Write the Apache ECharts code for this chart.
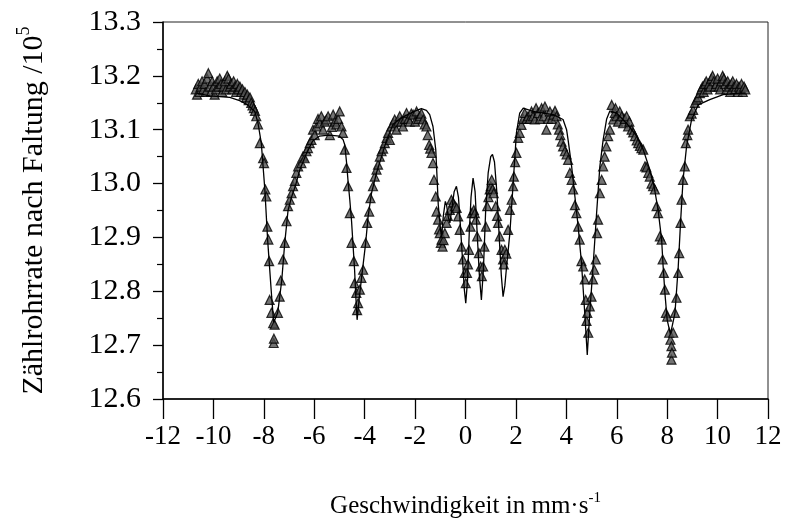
<!DOCTYPE html>
<html>
<head>
<meta charset="utf-8">
<script src="https://cdn.jsdelivr.net/npm/echarts@6/dist/echarts.min.js"></script>
<style>
  html, body { margin: 0; padding: 0; background: #fff; }
  #chart { width: 788px; height: 530px; }
</style>
</head>
<body>
<div id="chart"></div>
<script>
// Measured spectrum: source velocity (mm/s) and folded count rate (10^5)
const velocity = [
  -10.70,-10.65,-10.60,-10.55,-10.50,-10.45,-10.40,-10.35,-10.30,-10.25,
  -10.20,-10.15,-10.10,-10.05,-10.00,-9.95,-9.90,-9.85,-9.80,-9.75,
  -9.70,-9.65,-9.60,-9.55,-9.50,-9.45,-9.40,-9.35,-9.30,-9.25,
  -9.20,-9.15,-9.10,-9.05,-9.00,-8.95,-8.90,-8.85,-8.80,-8.75,
  -8.70,-8.65,-8.60,-8.55,-8.50,-8.45,-8.40,-8.35,-8.30,-8.23,
  -8.16,-8.03,-7.99,-7.94,-7.90,-7.86,-7.82,-7.79,-7.77,-7.70,
  -7.63,-7.61,-7.60,-7.57,-7.44,-7.37,-7.33,-7.24,-7.17,-7.10,
  -7.04,-6.97,-6.90,-6.84,-6.77,-6.71,-6.64,-6.51,-6.45,-6.38,
  -6.31,-6.25,-6.18,-6.11,-6.05,-5.98,-5.91,-5.85,-5.78,-5.72,
  -5.65,-5.58,-5.52,-5.45,-5.38,-5.30,-5.25,-5.18,-5.12,-5.05,
  -4.99,-4.92,-4.86,-4.79,-4.72,-4.66,-4.59,-4.52,-4.43,-4.40,
  -4.33,-4.30,-4.26,-4.19,-4.13,-4.06,-3.96,-3.90,-3.82,-3.77,
  -3.67,-3.60,-3.53,-3.47,-3.40,-3.33,-3.27,-3.20,-3.13,-3.07,
  -3.00,-2.94,-2.87,-2.81,-2.74,-2.67,-2.61,-2.55,-2.48,-2.40,
  -2.34,-2.27,-2.21,-2.15,-2.08,-2.00,-1.94,-1.87,-1.81,-1.75,
  -1.68,-1.62,-1.55,-1.50,-1.44,-1.40,-1.35,-1.29,-1.25,-1.18,
  -1.15,-1.09,-1.05,-1.02,-0.98,-0.95,-0.91,-0.87,-0.82,-0.75,
  -0.70,-0.62,-0.56,-0.49,-0.42,-0.35,-0.29,-0.23,-0.16,-0.10,
  -0.03,0.01,0.06,0.10,0.14,0.20,0.25,0.33,0.37,0.41,
  0.46,0.53,0.60,0.65,0.70,0.75,0.81,0.86,0.91,0.96,
  1.00,1.04,1.08,1.12,1.20,1.25,1.29,1.36,1.43,1.49,
  1.52,1.56,1.62,1.69,1.76,1.83,1.89,1.92,1.97,2.02,
  2.09,2.15,2.22,2.29,2.35,2.42,2.48,2.55,2.62,2.68,
  2.75,2.80,2.88,2.95,3.02,3.10,3.15,3.21,3.28,3.35,
  3.42,3.48,3.55,3.61,3.66,3.71,3.76,3.81,3.87,3.94,
  4.01,4.07,4.14,4.21,4.27,4.34,4.40,4.47,4.53,4.60,
  4.67,4.73,4.77,4.80,4.83,4.87,4.93,5.00,5.06,5.11,
  5.17,5.22,5.26,5.33,5.40,5.46,5.52,5.59,5.66,5.73,
  5.80,5.86,5.92,5.95,5.99,6.05,6.12,6.20,6.25,6.32,
  6.39,6.45,6.50,6.59,6.65,6.72,6.79,6.85,6.92,6.98,
  7.05,7.12,7.18,7.25,7.31,7.38,7.44,7.51,7.58,7.64,
  7.71,7.78,7.82,7.87,7.91,7.95,8.00,8.08,8.13,8.17,
  8.17,8.19,8.24,8.31,8.37,8.44,8.48,8.53,8.57,8.63,
  8.70,8.74,8.80,8.83,8.90,8.97,9.03,9.10,9.17,9.23,
  9.30,9.35,9.40,9.45,9.50,9.55,9.60,9.65,9.70,9.75,
  9.80,9.85,9.90,9.95,10.00,10.05,10.10,10.15,10.20,10.25,
  10.30,10.35,10.40,10.45,10.50,10.55,10.60,10.65,10.70,10.75,
  10.80,10.85,10.90,10.95,11.00,11.05,11.10
];
const counts = [
  13.175,13.165,13.185,13.17,13.18,13.19,13.175,13.185,13.17,13.195,
  13.205,13.18,13.17,13.19,13.18,13.165,13.175,13.19,13.18,13.195,
  13.185,13.17,13.18,13.19,13.175,13.2,13.195,13.18,13.185,13.175,
  13.19,13.18,13.17,13.185,13.175,13.18,13.17,13.175,13.165,13.17,
  13.16,13.165,13.155,13.16,13.15,13.145,13.14,13.135,13.125,13.11,
  13.075,13.047,13.038,12.989,12.976,12.92,12.896,12.856,12.784,12.76,
  12.741,12.704,12.712,12.738,12.76,12.79,12.82,12.859,12.89,12.93,
  12.958,12.97,12.982,12.995,13.005,13.02,13.032,13.038,13.05,13.047,
  13.06,13.066,13.075,13.081,13.10,13.09,13.106,13.12,13.112,13.125,
  13.10,13.115,13.119,13.125,13.09,13.105,13.128,13.115,13.11,13.12,
  13.134,13.106,13.094,13.063,13.029,12.995,12.945,12.89,12.856,12.815,
  12.797,12.765,12.778,12.803,12.825,12.84,12.89,12.927,12.948,12.973,
  12.995,13.013,13.026,13.035,13.05,13.06,13.065,13.075,13.085,13.094,
  13.081,13.106,13.112,13.119,13.10,13.115,13.125,13.115,13.106,13.12,
  13.131,13.12,13.115,13.13,13.128,13.115,13.134,13.12,13.125,13.13,
  13.119,13.11,13.106,13.09,13.072,13.065,13.057,13.038,13.007,12.976,
  12.948,12.933,12.915,12.908,12.89,12.896,12.883,12.895,12.908,12.927,
  12.94,12.951,12.97,12.965,12.958,12.955,12.939,12.914,12.883,12.859,
  12.834,12.815,12.834,12.85,12.877,12.92,12.945,12.951,12.945,12.933,
  12.902,12.871,12.846,12.828,12.846,12.883,12.92,12.958,12.975,12.989,
  12.995,13.007,12.99,12.982,12.958,12.94,12.927,12.902,12.877,12.859,
  12.85,12.877,12.87,12.914,12.951,12.97,12.995,13.013,13.04,13.057,
  13.085,13.094,13.109,13.12,13.131,13.12,13.125,13.12,13.134,13.125,
  13.119,13.14,13.131,13.12,13.14,13.125,13.143,13.10,13.12,13.134,
  13.12,13.128,13.135,13.125,13.11,13.10,13.09,13.078,13.069,13.06,
  13.054,13.044,13.02,13.007,12.989,12.96,12.945,12.92,12.896,12.856,
  12.846,12.822,12.784,12.745,12.76,12.723,12.772,12.79,12.822,12.84,
  12.859,12.908,12.933,12.982,13.007,13.032,13.05,13.069,13.088,13.10,
  13.146,13.119,13.131,13.14,13.125,13.115,13.134,13.125,13.112,13.12,
  13.125,13.106,13.115,13.10,13.095,13.088,13.08,13.075,13.07,13.066,
  13.063,13.032,13.03,13.02,13.013,13.0,12.995,12.989,12.958,12.945,
  12.902,12.896,12.859,12.834,12.803,12.76,12.753,12.723,12.71,12.698,
  12.673,12.686,12.723,12.76,12.788,12.834,12.871,12.927,12.97,13.007,
  13.032,13.075,13.09,13.10,13.125,13.13,13.137,13.15,13.156,13.16,
  13.168,13.175,13.18,13.17,13.185,13.19,13.175,13.185,13.18,13.195,
  13.2,13.19,13.18,13.185,13.195,13.18,13.175,13.19,13.2,13.195,
  13.185,13.175,13.19,13.18,13.17,13.185,13.19,13.18,13.175,13.185,
  13.17,13.18,13.175,13.185,13.17,13.18,13.175
];

// Fitted curve (sextet plus central components)
const fitVelocity = [
  -10.67,-10.15,-9.35,-8.96,-8.64,-8.36,-8.23,-8.10,-7.96,-7.85,
  -7.69,-7.61,-7.45,-7.29,-7.17,-7.04,-6.90,-6.74,-6.57,-6.30,
  -6.06,-5.80,-5.40,-5.00,-4.86,-4.79,-4.72,-4.66,-4.59,-4.52,
  -4.46,-4.40,-4.35,-4.30,-4.22,-4.13,-3.96,-3.86,-3.73,-3.53,
  -3.33,-3.13,-2.87,-2.61,-2.30,-1.94,-1.75,-1.55,-1.42,-1.29,
  -1.18,-1.13,-1.08,-1.00,-0.95,-0.88,-0.80,-0.75,-0.68,-0.62,
  -0.55,-0.45,-0.36,-0.28,-0.20,-0.12,-0.05,0.01,0.08,0.15,
  0.22,0.30,0.38,0.46,0.55,0.63,0.71,0.80,0.90,1.00,
  1.07,1.15,1.25,1.35,1.42,1.49,1.56,1.63,1.76,1.89,
  2.02,2.15,2.29,2.68,3.08,3.48,3.87,4.01,4.07,4.21,
  4.34,4.47,4.60,4.73,4.83,4.93,5.06,5.20,5.33,5.46,
  5.60,5.73,5.99,6.39,6.79,7.05,7.31,7.48,7.64,7.78,
  7.84,7.91,8.00,8.13,8.31,8.44,8.53,8.63,8.77,8.97,
  9.23,9.69,10.22,10.88,11.10
];
const fitCounts = [
  13.168,13.163,13.16,13.154,13.146,13.134,13.112,13.075,12.989,12.896,
  12.79,12.742,12.76,12.82,12.89,12.95,12.975,12.997,13.026,13.057,
  13.079,13.088,13.09,13.088,13.082,13.072,13.04,13.005,12.97,12.93,
  12.885,12.84,12.79,12.747,12.785,12.822,12.89,12.94,12.982,13.02,
  13.05,13.081,13.11,13.12,13.128,13.136,13.139,13.136,13.128,13.106,
  13.063,13.013,12.96,12.92,12.90,12.94,12.967,12.96,12.937,12.927,
  12.95,12.985,12.995,12.975,12.92,12.86,12.805,12.778,12.82,12.91,
  12.975,13.01,12.985,12.91,12.83,12.784,12.84,12.95,13.02,13.05,
  13.054,13.04,12.98,12.89,12.83,12.79,12.81,12.846,12.908,13.0,
  13.094,13.131,13.14,13.134,13.131,13.128,13.119,13.10,13.081,13.032,
  12.976,12.92,12.853,12.76,12.682,12.76,12.846,12.945,13.032,13.081,
  13.12,13.135,13.131,13.112,13.088,13.063,13.026,12.995,12.951,12.896,
  12.846,12.797,12.747,12.72,12.76,12.846,12.927,13.007,13.069,13.119,
  13.146,13.156,13.165,13.168,13.168
];

const serif = '"Liberation Serif", "Times New Roman", serif';
const measured = velocity.map((v, i) => [v, counts[i]]);
const fitted = fitVelocity.map((v, i) => [v, fitCounts[i]]);

const chart = echarts.init(document.getElementById('chart'), null, { renderer: 'canvas' });
chart.setOption({
  animation: false,
  backgroundColor: '#fff',
  grid: {
    left: 163, right: 20, top: 22, bottom: 131,
    show: true, borderColor: '#222', borderWidth: 1, backgroundColor: 'transparent'
  },
  xAxis: {
    type: 'value', min: -12, max: 12, interval: 2,
    axisLine: { onZero: false, lineStyle: { color: '#000', width: 1.5 } },
    axisTick: { length: 20, lineStyle: { color: '#000', width: 1.3 } },
    axisLabel: { margin: 24, color: '#000', fontFamily: serif, fontSize: 27 },
    splitLine: { show: false },
    name: '{t|Geschwindigkeit in mm·s}{s|-1}',
    nameLocation: 'middle', nameGap: 92,
    nameTextStyle: {
      rich: {
        t: { fontFamily: serif, fontSize: 25, color: '#000', lineHeight: 28, verticalAlign: 'bottom' },
        s: { fontFamily: serif, fontSize: 15, color: '#000', lineHeight: 16, verticalAlign: 'top' }
      }
    }
  },
  yAxis: {
    type: 'value', min: 12.6, max: 13.3, interval: 0.1,
    axisLine: { show: true, onZero: false, lineStyle: { color: '#000', width: 1.5 } },
    axisTick: { length: 10, lineStyle: { color: '#000', width: 1.3 } },
    minorTick: { show: true, splitNumber: 2, length: 6, lineStyle: { color: '#000', width: 1.2 } },
    axisLabel: {
      margin: 22, color: '#000', fontFamily: serif, fontSize: 30,
      formatter: v => v.toFixed(1)
    },
    splitLine: { show: false },
    minorSplitLine: { show: false },
    name: '{t|Zählrohrrate nach Faltung /10}{s|5}',
    nameLocation: 'middle', nameGap: 114, nameRotate: 90,
    nameTextStyle: {
      rich: {
        t: { fontFamily: serif, fontSize: 30, color: '#000', lineHeight: 34, verticalAlign: 'bottom' },
        s: { fontFamily: serif, fontSize: 18, color: '#000', lineHeight: 19, verticalAlign: 'top' }
      }
    }
  },
  series: [
    {
      type: 'scatter',
      data: measured,
      symbol: 'triangle',
      symbolSize: 9,
      itemStyle: { color: '#505050', borderColor: '#000', borderWidth: 1.2 },
      z: 2
    },
    {
      type: 'line',
      data: fitted,
      showSymbol: false,
      lineStyle: { color: '#000', width: 1.3 },
      z: 3
    }
  ]
});
</script>
</body>
</html>
